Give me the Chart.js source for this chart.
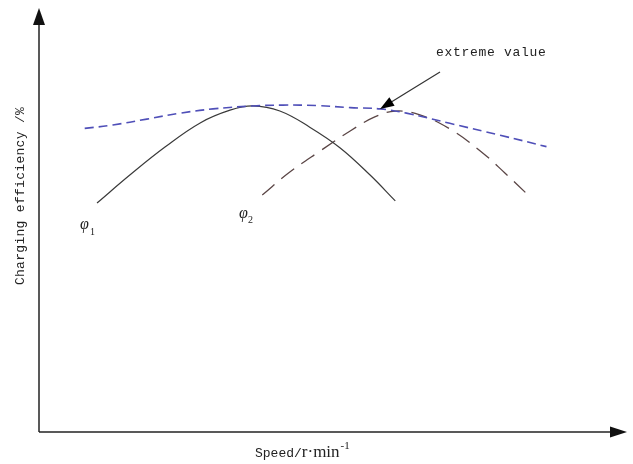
<!DOCTYPE html>
<html>
<head>
<meta charset="utf-8">
<script src="https://cdn.jsdelivr.net/npm/chart.js@4.4.1/dist/chart.umd.min.js"></script>
<style>
  html, body { margin: 0; padding: 0; background: #fff; }
  #wrap { width: 633px; height: 464px; }
</style>
</head>
<body>
<div id="wrap"><canvas id="chart" width="633" height="464"></canvas></div>
<script>
// values (arbitrary units, 0-100 on both axes)
var phi1_speed = [9.9, 15.5, 21.5, 27.5, 32.6, 36.5, 41.1, 46.2, 51.4, 56.5, 60.8];
var phi1_eff   = [54.0, 60.6, 67.2, 72.9, 75.9, 76.9, 75.7, 71.9, 67.0, 60.6, 54.5];

var phi2_speed = [38.1, 42.8, 48.0, 53.1, 57.3, 60.8, 65.0, 70.1, 75.3, 79.5, 83.3];
var phi2_eff   = [55.9, 61.3, 66.3, 71.0, 74.3, 75.7, 74.8, 71.5, 66.3, 61.1, 56.1];

var env_speed = [7.8, 12.6, 18.4, 24.1, 29.7, 36.5, 41.6, 47.4, 53.1, 58.2, 62.7, 70.1, 78.7, 86.6];
var env_eff   = [71.6, 72.4, 73.8, 75.2, 76.2, 76.9, 77.1, 77.0, 76.5, 76.2, 75.2, 72.8, 70.0, 67.3];

// point the "extreme value" arrow at
var extreme_speed = 58.2;
var extreme_eff = 76.2;

var x_title = "Speed/";
var x_unit = "r\u00b7min";
var x_unit_exp = "-1";
var y_title = "Charging efficiency /%";
var note_text = "extreme value";

function pts(xs, ys) {
  var out = [];
  for (var i in xs) out.push({x: xs[i], y: ys[i]});
  return out;
}

function arrowHead(ctx, x1, y1, x2, y2, len, half) {
  var a = Math.atan2(y2 - y1, x2 - x1);
  ctx.beginPath();
  ctx.moveTo(x2, y2);
  ctx.lineTo(x2 - len * Math.cos(a) + half * Math.sin(a), y2 - len * Math.sin(a) - half * Math.cos(a));
  ctx.lineTo(x2 - len * Math.cos(a) - half * Math.sin(a), y2 - len * Math.sin(a) + half * Math.cos(a));
  ctx.closePath();
  ctx.fill();
}

// axes with arrows, titles and labels
var decor = {
  id: 'decor',
  afterDraw: function(chart) {
    var ctx = chart.ctx;
    var area = chart.chartArea;
    var sx = chart.scales.x, sy = chart.scales.y;
    ctx.save();
    ctx.strokeStyle = '#222';
    ctx.fillStyle = '#111';
    ctx.lineWidth = 1.5;

    // y axis
    ctx.beginPath();
    ctx.moveTo(area.left, area.bottom);
    ctx.lineTo(area.left, area.top + 6);
    ctx.stroke();
    arrowHead(ctx, area.left, area.bottom, area.left, area.top, 17, 6);

    // x axis
    ctx.beginPath();
    ctx.moveTo(area.left, area.bottom);
    ctx.lineTo(area.right - 4, area.bottom);
    ctx.stroke();
    arrowHead(ctx, area.left, area.bottom, area.right + 2, area.bottom, 17, 5.5);

    // y title
    ctx.save();
    ctx.translate(24, 196);
    ctx.rotate(-Math.PI / 2);
    ctx.font = '13px "Liberation Mono"';
    ctx.letterSpacing = '0.3px';
    ctx.textAlign = 'center';
    ctx.textBaseline = 'alphabetic';
    ctx.fillStyle = '#222';
    ctx.fillText(y_title, 0, 0);
    ctx.restore();

    // x title
    ctx.fillStyle = '#222';
    ctx.textAlign = 'left';
    ctx.textBaseline = 'alphabetic';
    ctx.font = '13px "Liberation Mono"';
    ctx.letterSpacing = '0px';
    var x0 = 255;
    ctx.fillText(x_title, x0, 457);
    x0 += ctx.measureText(x_title).width;
    ctx.font = '17px "Liberation Serif"';
    ctx.fillText(x_unit, x0, 457);
    x0 += ctx.measureText(x_unit).width;
    ctx.font = '11px "Liberation Serif"';
    ctx.fillText(x_unit_exp, x0 + 1, 449);

    // curve labels
    ctx.font = 'italic 16px "Liberation Serif"';
    ctx.fillText('\u03c6', 80, 229);
    ctx.fillText('\u03c6', 239, 218);
    ctx.font = '10px "Liberation Serif"';
    ctx.fillText('1', 90, 235);
    ctx.fillText('2', 248, 223);

    // note with arrow
    ctx.font = '13px "Liberation Mono"';
    ctx.letterSpacing = '0.7px';
    ctx.fillText(note_text, 436, 56);
    var tx = sx.getPixelForValue(extreme_speed), ty = sy.getPixelForValue(extreme_eff);
    ctx.lineWidth = 1.2;
    ctx.strokeStyle = '#333';
    ctx.beginPath();
    ctx.moveTo(440, 72);
    ctx.lineTo(tx + 8, ty - 5);
    ctx.stroke();
    ctx.fillStyle = '#000';
    arrowHead(ctx, 440, 72, tx, ty, 14, 5);
    ctx.restore();
  }
};

new Chart(document.getElementById("chart"), {
  type: 'line',
  data: {
    datasets: [{
        label: "envelope",
        data: pts(env_speed, env_eff),
        borderColor: "#4f4fb8",
        borderWidth: 1.6,
        borderDash: [9, 5],
        pointRadius: 0,
        fill: false,
        tension: 0.4
      }, {
        label: "phi1",
        data: pts(phi1_speed, phi1_eff),
        borderColor: "#3a3a3a",
        borderWidth: 1.2,
        pointRadius: 0,
        fill: false,
        tension: 0.4
      }, {
        label: "phi2",
        data: pts(phi2_speed, phi2_eff),
        borderColor: "#5a4545",
        borderWidth: 1.3,
        borderDash: [16, 9],
        pointRadius: 0,
        fill: false,
        tension: 0.4
      }
    ]
  },
  options: {
    responsive: false,
    animation: false,
    layout: { padding: { left: 39, right: 8, top: 8, bottom: 32 } },
    plugins: { legend: { display: false }, tooltip: { enabled: false } },
    scales: {
      x: { type: 'linear', min: 0, max: 100, display: false },
      y: { min: 0, max: 100, display: false }
    }
  },
  plugins: [decor]
});
</script>
</body>
</html>
